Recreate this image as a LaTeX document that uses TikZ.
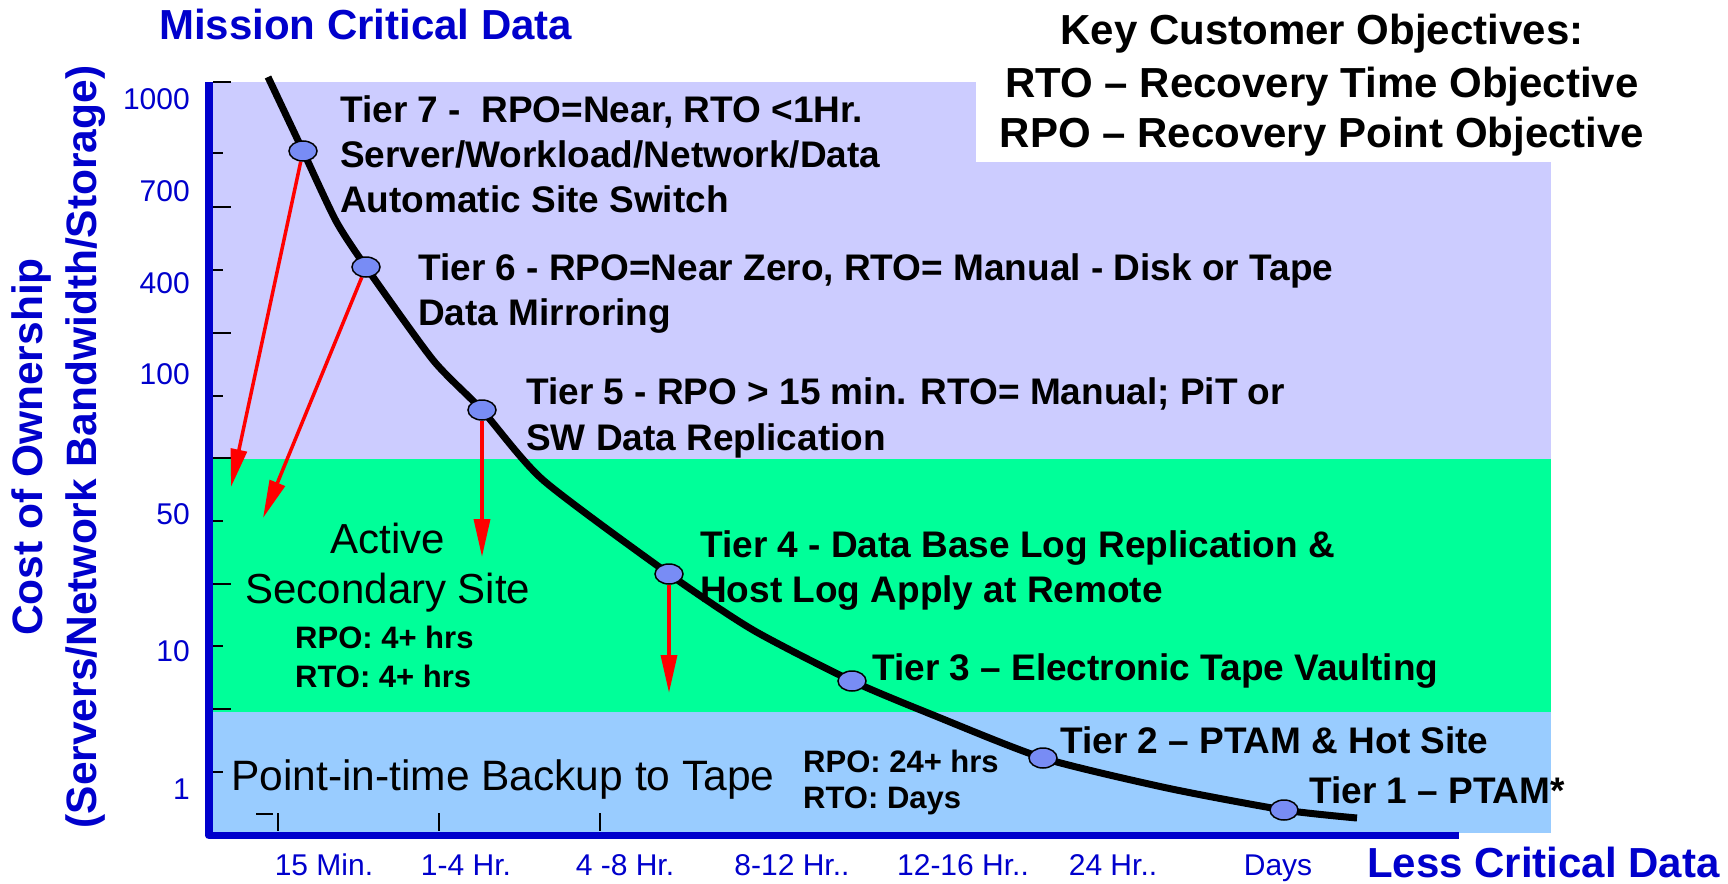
\documentclass[tikz,border=0pt]{standalone}
\usepackage{fontspec}
\setmainfont{Liberation Sans}
\usepackage{graphicx}
\usetikzlibrary{arrows.meta,shapes.geometric}
\pgfdeclarelayer{bg}
\pgfdeclarelayer{mid}
\pgfsetlayers{bg,mid,main}
\definecolor{lav}{RGB}{204,204,255}
\definecolor{grn}{RGB}{0,255,153}
\definecolor{lblue}{RGB}{153,204,255}
\definecolor{axblue}{RGB}{0,0,204}
\definecolor{dotblue}{RGB}{120,140,245}
\begin{document}
\begin{tikzpicture}[x=1pt,y=-1pt,
  tier/.style={font=\fontsize{37}{45}\selectfont\bfseries, anchor=base west, inner sep=0pt, text=black},
  small/.style={font=\fontsize{31}{36}\selectfont\bfseries, anchor=base west, inner sep=0pt, text=black},
  big/.style={font=\fontsize{42}{50}\selectfont, inner sep=0pt, text=black},
  ylab/.style={font=\fontsize{30}{36}\selectfont, text=axblue, anchor=base east, inner sep=0pt},
  xlab/.style={font=\fontsize{30}{36}\selectfont, text=axblue, anchor=base, inner sep=0pt},
  btitle/.style={font=\fontsize{42}{50}\selectfont\bfseries, text=axblue, anchor=base west, inner sep=0pt},
  ytitle/.style={font=\fontsize{42.5}{50}\selectfont\bfseries, text=axblue, anchor=base, rotate=90, inner sep=0pt},
  ktitle/.style={font=\fontsize{42}{50}\selectfont\bfseries, text=black, anchor=base, inner sep=0pt},
  dot/.style={ellipse, draw=black, line width=1.5pt, fill=dotblue, minimum width=28pt, minimum height=20pt, inner sep=0pt},
  redarrow/.style={draw=red, line width=3.5pt, -{Triangle[length=38pt,width=16pt]}},
  curve/.style={draw=black, line width=7pt},
  tickmark/.style={draw=black, line width=2pt},
  axisline/.style={draw=axblue, line width=7.5pt, line join=round}
]
\useasboundingbox (0,0) rectangle (1728,883);

% ---------- background layer: bands, axes, ticks ----------
\begin{pgfonlayer}{bg}
\fill[white] (0,0) rectangle (1728,883);
\fill[lav] (209,82) rectangle (1551,459);
\fill[white] (976,82) rectangle (1551,162);
\fill[grn] (209,459) rectangle (1551,712);
\fill[lblue] (209,712) rectangle (1551,833);
% y ticks
\foreach \yy in {82,207,333,458,584,709} \draw[tickmark] (213,\yy) -- (231,\yy);
\foreach \yy in {153,270,396,521,646,772} \draw[tickmark] (213,\yy) -- (223,\yy);
% x ticks
\foreach \xx in {278,439,600} \draw[tickmark] (\xx,813) -- (\xx,831);
\draw[tickmark] (256,814) -- (273,814);
% axes
\draw[axisline] (209,82) -- (209,835.5) -- (1459,835.5);
\end{pgfonlayer}

% ---------- tier points ----------
\node[dot] (t7) at (303,151) {};
\node[dot] (t6) at (366,267) {};
\node[dot] (t5) at (482,410) {};
\node[dot] (t4) at (669,574) {};
\node[dot] (t3) at (852,681) {};
\node[dot] (t2) at (1043,758) {};
\node[dot] (t1) at (1284,810) {};

\coordinate (cs) at (268,77);
\coordinate (c1) at (336,221);
\coordinate (c2) at (433,360);
\coordinate (c3) at (543,480);
\coordinate (c4) at (753,630);
\coordinate (c5) at (933,715);
\coordinate (c6) at (1167,788);
\coordinate (ce) at (1357,818);

\coordinate (a7) at (231,487);
\coordinate (a6) at (263,518);
\coordinate (a5) at (482,557);
\coordinate (a4) at (669,693);

\begin{pgfonlayer}{mid}
\draw[curve] plot[smooth, tension=0.4] coordinates {(cs) (t7.center) (c1) (t6.center) (c2) (t5.center) (c3) (t4.center) (c4) (t3.center) (c5) (t2.center) (c6) (t1.center) (ce)};
\draw[redarrow] (t7) -- (a7);
\draw[redarrow] (t6) -- (a6);
\draw[redarrow] (t5) -- (a5);
\draw[redarrow] (t4) -- (a4);
\end{pgfonlayer}

% ---------- tier texts ----------
\node[tier] (l7a) at (340,122) {Tier 7 -\ \ RPO=Near, RTO <1Hr.};
\node[tier] (l7b) at (340,167) {Server/Workload/Network/Data};
\node[tier] (l7c) at (340,212) {Automatic Site Switch};
\node[tier] (l6a) at (418,280) {Tier 6 - RPO=Near Zero, RTO= Manual - Disk or Tape};
\node[tier] (l6b) at (418,325) {Data Mirroring};
\node[tier] (l5a) at (526,404) {Tier 5 - RPO > 15 min. RTO= Manual; PiT or};
\node[tier] (l5b) at (526,450) {SW Data Replication};
\node[tier] (l4a) at (700,557) {Tier 4 - Data Base Log Replication \&};
\node[tier] (l4b) at (700,602) {Host Log Apply at Remote};
\node[tier] (l3) at (872,680) {Tier 3 – Electronic Tape Vaulting};
\node[tier] (l2) at (1060,753) {Tier 2 – PTAM \& Hot Site};
\node[tier] (l1) at (1309,803) {Tier 1 – PTAM*};

% ---------- band texts ----------
\node[big, anchor=base] (act1) at (388,553) {Active};
\node[big, anchor=base] (act2) at (388,603) {Secondary Site};
\node[small] (act3) at (295,648) {RPO: 4+ hrs};
\node[small] (act4) at (295,687) {RTO: 4+ hrs};
\node[big, anchor=base west, font=\fontsize{42.5}{50}\selectfont] (pit) at (231,790) {Point-in-time Backup to Tape};
\node[small] (pit2) at (803,772) {RPO: 24+ hrs};
\node[small] (pit3) at (803,808) {RTO: Days};

% ---------- axis labels ----------
\node[ylab] (y1000) at (190,109) {1000};
\node[ylab] (y700) at (190,201) {700};
\node[ylab] (y400) at (190,293) {400};
\node[ylab] (y100) at (190,384) {100};
\node[ylab] (y50) at (190,524) {50};
\node[ylab] (y10) at (190,661) {10};
\node[ylab] (y1) at (190,799) {1};

\node[xlab] (x1) at (324,875) {15 Min.};
\node[xlab] (x2) at (466,875) {1-4 Hr.};
\node[xlab] (x3) at (625,875) {4 -8 Hr.};
\node[xlab] (x4) at (792,875) {8-12 Hr..};
\node[xlab] (x5) at (963,875) {12-16 Hr..};
\node[xlab] (x6) at (1113,875) {24 Hr..};
\node[xlab] (x7) at (1278,875) {Days};

\node[btitle] (mcd) at (159,40) {Mission Critical Data};
\node[btitle] (lcd) at (1367,877) {Less Critical Data};

\node[ytitle] (yt1) at (42,447) {Cost of Ownership};
\node[ytitle] (yt2) at (96,447) {(Servers/Network Bandwidth/Storage)};

% ---------- key objectives ----------
\node[ktitle] (k1) at (1322,45) {Key Customer Objectives:};
\node[ktitle] (k2) at (1322,97) {RTO – Recovery Time Objective};
\node[ktitle] (k3) at (1322,147) {RPO – Recovery Point Objective};
\end{tikzpicture}
\end{document}
